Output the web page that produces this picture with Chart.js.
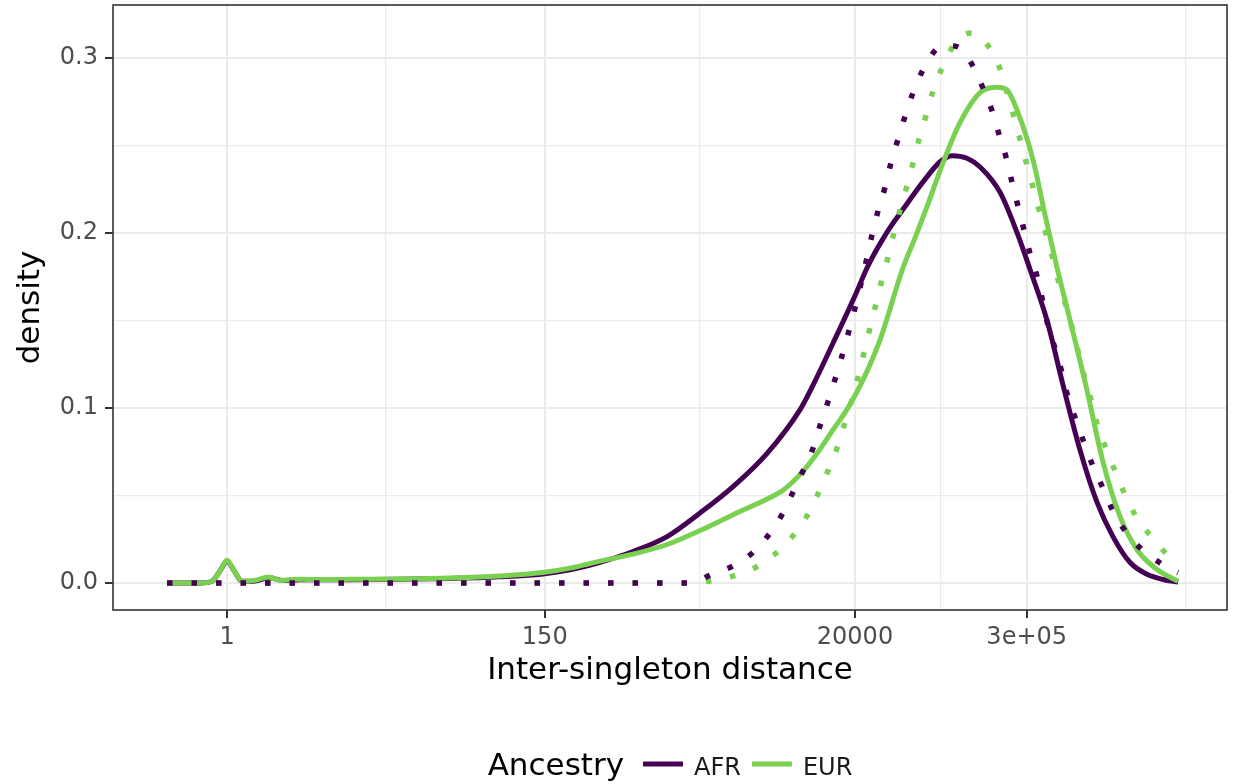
<!DOCTYPE html>
<html>
<head>
<meta charset="utf-8">
<script src="https://cdn.jsdelivr.net/npm/chart.js@4.4.1/dist/chart.umd.min.js"></script>
<style>
  html, body { margin: 0; padding: 0; background: #fff; }
</style>
</head>
<body>
<canvas id="densityChart" width="1233" height="784"></canvas>
<script>
const AFR_COLOR = "#440154";
const EUR_COLOR = "#7AD151";
const FONT = "'DejaVu Sans', sans-serif";

// x values are log10(inter-singleton distance)
const afrX = [-0.411, -0.185, -0.103, -0.048, 0, 0.048, 0.103, 0.192, 0.288, 0.384, 0.5, 0.842, 1.185, 1.527, 1.87, 2.164, 2.349, 2.555, 2.781, 3.014, 3.24, 3.466, 3.699, 3.925, 4.014, 4.151, 4.301, 4.384, 4.44, 4.493, 4.55, 4.61, 4.767, 4.884, 4.966, 5.068, 5.158, 5.295, 5.411, 5.5, 5.616, 5.726, 5.842, 5.959, 6.068, 6.185, 6.301, 6.411, 6.514];
const afrY = [0, 0, 0.001, 0.007, 0.0125, 0.007, 0.001, 0.0012, 0.003, 0.0015, 0.0018, 0.0019, 0.0021, 0.0026, 0.0036, 0.0052, 0.0075, 0.0118, 0.018, 0.0265, 0.04, 0.055, 0.074, 0.099, 0.113, 0.137, 0.164, 0.18, 0.189, 0.1965, 0.204, 0.211, 0.229, 0.2405, 0.244, 0.2425, 0.2375, 0.223, 0.2, 0.179, 0.15, 0.113, 0.076, 0.046, 0.0265, 0.0117, 0.005, 0.002, 0.0005];

const eurX = [-0.411, -0.185, -0.103, -0.048, 0, 0.048, 0.103, 0.192, 0.281, 0.37, 0.479, 0.568, 0.842, 1.185, 1.527, 1.87, 2.164, 2.349, 2.555, 2.781, 3.014, 3.24, 3.466, 3.699, 3.808, 3.925, 4.041, 4.151, 4.253, 4.356, 4.473, 4.63, 4.712, 4.795, 4.904, 5.021, 5.158, 5.274, 5.342, 5.411, 5.521, 5.603, 5.685, 5.774, 5.89, 6.0, 6.116, 6.233, 6.37, 6.514];
const eurY = [0, 0, 0.001, 0.007, 0.013, 0.007, 0.001, 0.0015, 0.0035, 0.0015, 0.0022, 0.002, 0.0021, 0.0023, 0.0028, 0.004, 0.006, 0.0085, 0.0125, 0.0165, 0.022, 0.03, 0.039, 0.048, 0.053, 0.062, 0.074, 0.0875, 0.1, 0.116, 0.139, 0.18, 0.197, 0.215, 0.24, 0.263, 0.28, 0.283, 0.2815, 0.27, 0.2415, 0.21, 0.18, 0.15, 0.11, 0.069, 0.038, 0.019, 0.0077, 0.001];

// dotted curves (not in the legend)
const afrDotX = [-0.411, 3.171, 3.24, 3.295, 3.459, 3.596, 3.705, 3.801, 3.877, 3.945, 4.014, 4.062, 4.116, 4.199, 4.301, 4.384, 4.418, 4.459, 4.507, 4.548, 4.596, 4.644, 4.699, 4.767, 4.856, 4.925, 5.007, 5.11, 5.178, 5.24, 5.288, 5.336, 5.377, 5.418, 5.459, 5.5, 5.548, 5.589, 5.623, 5.671, 5.719, 5.76, 5.815, 5.87, 5.932, 6.0, 6.068, 6.158, 6.274, 6.411, 6.514];
const afrDotY = [0, 0, 0.0015, 0.004, 0.0095, 0.017, 0.027, 0.039, 0.052, 0.064, 0.077, 0.09, 0.1035, 0.126, 0.157, 0.186, 0.199, 0.2125, 0.226, 0.24, 0.2535, 0.2665, 0.28, 0.293, 0.3045, 0.307, 0.306, 0.295, 0.2825, 0.2695, 0.256, 0.243, 0.2285, 0.215, 0.2015, 0.188, 0.175, 0.16, 0.147, 0.134, 0.12, 0.106, 0.093, 0.08, 0.0665, 0.054, 0.041, 0.029, 0.0185, 0.0105, 0.006];

const eurDotX = [-0.411, 3.2, 3.295, 3.466, 3.623, 3.76, 3.877, 3.973, 4.048, 4.116, 4.178, 4.226, 4.281, 4.336, 4.384, 4.432, 4.479, 4.527, 4.568, 4.61, 4.658, 4.699, 4.74, 4.788, 4.836, 4.897, 4.973, 5.062, 5.11, 5.226, 5.301, 5.349, 5.397, 5.452, 5.507, 5.555, 5.61, 5.658, 5.699, 5.747, 5.795, 5.836, 5.877, 5.925, 5.966, 6.027, 6.089, 6.158, 6.233, 6.336, 6.445, 6.514];
const eurDotY = [0, 0, 0.001, 0.004, 0.009, 0.017, 0.027, 0.0385, 0.051, 0.064, 0.077, 0.09, 0.105, 0.122, 0.139, 0.155, 0.171, 0.186, 0.2, 0.213, 0.227, 0.24, 0.2535, 0.267, 0.281, 0.294, 0.3065, 0.3135, 0.314, 0.305, 0.292, 0.278, 0.264, 0.247, 0.23, 0.215, 0.199, 0.1845, 0.171, 0.158, 0.1435, 0.13, 0.116, 0.1025, 0.0887, 0.0755, 0.0625, 0.049, 0.037, 0.026, 0.0157, 0.011];

const xBreaks = [1, 150, 20000, 300000];
const xBreakLabels = ["1", "150", "20000", "3e+05"];
const yBreaks = [0, 0.1, 0.2, 0.3];
const yBreakLabels = ["0.0", "0.1", "0.2", "0.3"];
const legendTitle = "Ancestry";

const X_MIN = -0.781, X_MAX = 6.849;
const Y_MIN = -0.0154, Y_MAX = 0.33;

// ggplot style minor breaks: midpoints, extended by first break gap
function minorBreaks(major) {
  let b = major.slice();
  let step = b[1] - b[0];
  b = [b[0] - step, ...b, b[b.length - 1] + step];
  let out = [];
  for (let i = 0; i < b.length - 1; i++) out.push((b[i] + b[i + 1]) / 2);
  return out;
}

const xMajor = xBreaks.map(v => Math.log10(v));
const xMinor = minorBreaks(xMajor);
const yMinor = minorBreaks(yBreaks);

function isMajor(list, v) {
  return list.findIndex(m => Math.abs(m - v) < 1e-9);
}

function points(xs, ys) {
  return xs.map((x, i) => ({ x: x, y: ys[i] }));
}

const panelBorder = {
  id: "panelBorder",
  afterDatasetsDraw(chart) {
    let ctx = chart.ctx;
    let a = chart.chartArea;
    ctx.save();
    ctx.strokeStyle = "#333333";
    ctx.lineWidth = 1.6;
    ctx.strokeRect(a.left, a.top, a.right - a.left, a.bottom - a.top);
    ctx.restore();
  }
};

const ancestryLegend = {
  id: "ancestryLegend",
  afterDraw(chart) {
    let ctx = chart.ctx;
    let items = chart.data.datasets.filter(d => d.inLegend);
    let a = chart.chartArea;
    ctx.save();
    ctx.font = "31px " + FONT;
    let titleW = ctx.measureText(legendTitle).width;
    ctx.font = "24px " + FONT;
    let widths = items.map(d => ctx.measureText(d.label).width);
    let swatch = 40;
    let total = titleW;
    items.forEach((d, i) => { total += (i === 0 ? 19 : 11) + swatch + 11 + widths[i]; });
    let x = (a.left + a.right) / 2 - total / 2;
    let baseline = 775;
    ctx.fillStyle = "#000";
    ctx.textBaseline = "alphabetic";
    ctx.textAlign = "left";
    ctx.font = "31px " + FONT;
    ctx.fillText(legendTitle, x, baseline);
    x += titleW;
    ctx.font = "24px " + FONT;
    items.forEach((d, i) => {
      x += i === 0 ? 19 : 11;
      ctx.strokeStyle = d.borderColor;
      ctx.lineWidth = 5;
      ctx.beginPath();
      ctx.moveTo(x, 764);
      ctx.lineTo(x + swatch, 764);
      ctx.stroke();
      x += swatch + 11;
      ctx.fillStyle = "#1A1A1A";
      ctx.fillText(d.label, x, baseline);
      x += widths[i];
    });
    ctx.restore();
  }
};

function solid(label, color, xs, ys, order) {
  return {
    label: label,
    inLegend: true,
    data: points(xs, ys),
    borderColor: color,
    backgroundColor: color,
    borderWidth: 5,
    pointRadius: 0,
    cubicInterpolationMode: "monotone",
    order: order
  };
}

function dotted(color, xs, ys, order) {
  return {
    label: "",
    data: points(xs, ys),
    borderColor: color,
    backgroundColor: color,
    borderWidth: 5.5,
    borderDash: [5.5, 19],
    borderCapStyle: "butt",
    pointRadius: 0,
    cubicInterpolationMode: "monotone",
    order: order
  };
}

new Chart(document.getElementById("densityChart"), {
  type: "line",
  data: {
    datasets: [
      solid("AFR", AFR_COLOR, afrX, afrY, 4),
      solid("EUR", EUR_COLOR, eurX, eurY, 3),
      dotted(EUR_COLOR, eurDotX, eurDotY, 2),
      dotted(AFR_COLOR, afrDotX, afrDotY, 1)
    ]
  },
  options: {
    responsive: false,
    animation: false,
    layout: { padding: { top: 5, right: 6, bottom: 94, left: 0 } },
    plugins: {
      legend: { display: false },
      tooltip: { enabled: false }
    },
    scales: {
      x: {
        type: "linear",
        min: X_MIN,
        max: X_MAX,
        afterBuildTicks: axis => {
          axis.ticks = [...xMajor, ...xMinor]
            .filter(v => v > X_MIN && v < X_MAX)
            .sort((p, q) => p - q)
            .map(v => ({ value: v }));
        },
        afterFit: axis => {
          axis.height = 80;
          axis.paddingLeft = 0;
          axis.paddingRight = 0;
        },
        ticks: {
          autoSkip: false,
          maxRotation: 0,
          padding: 5,
          color: "#4D4D4D",
          font: { family: FONT, size: 24 },
          callback: v => {
            let i = isMajor(xMajor, v);
            return i >= 0 ? xBreakLabels[i] : "";
          }
        },
        grid: {
          color: "#EBEBEB",
          lineWidth: c => (c.tick && isMajor(xMajor, c.tick.value) >= 0 ? 2 : 1.2),
          tickColor: c => (c.tick && isMajor(xMajor, c.tick.value) >= 0 ? "#333333" : "rgba(0,0,0,0)"),
          tickWidth: 2,
          tickLength: 8
        },
        border: { display: false },
        title: {
          display: true,
          text: "Inter-singleton distance",
          color: "#000",
          font: { family: FONT, size: 31 },
          padding: 0
        }
      },
      y: {
        type: "linear",
        min: Y_MIN,
        max: Y_MAX,
        afterBuildTicks: axis => {
          axis.ticks = [...yBreaks, ...yMinor]
            .filter(v => v > Y_MIN && v < Y_MAX)
            .sort((p, q) => p - q)
            .map(v => ({ value: v }));
        },
        afterFit: axis => {
          axis.width = 113;
          axis.paddingTop = 0;
          axis.paddingBottom = 0;
        },
        ticks: {
          autoSkip: false,
          padding: 7,
          color: "#4D4D4D",
          font: { family: FONT, size: 24 },
          callback: v => {
            let i = isMajor(yBreaks, v);
            return i >= 0 ? yBreakLabels[i] : "";
          }
        },
        grid: {
          color: "#EBEBEB",
          lineWidth: c => (c.tick && isMajor(yBreaks, c.tick.value) >= 0 ? 2 : 1.2),
          tickColor: c => (c.tick && isMajor(yBreaks, c.tick.value) >= 0 ? "#333333" : "rgba(0,0,0,0)"),
          tickWidth: 2,
          tickLength: 8
        },
        border: { display: false },
        title: {
          display: true,
          text: "density",
          color: "#000",
          font: { family: FONT, size: 31 },
          padding: { top: 12, bottom: 0 }
        }
      }
    }
  },
  plugins: [panelBorder, ancestryLegend]
});
</script>
</body>
</html>
